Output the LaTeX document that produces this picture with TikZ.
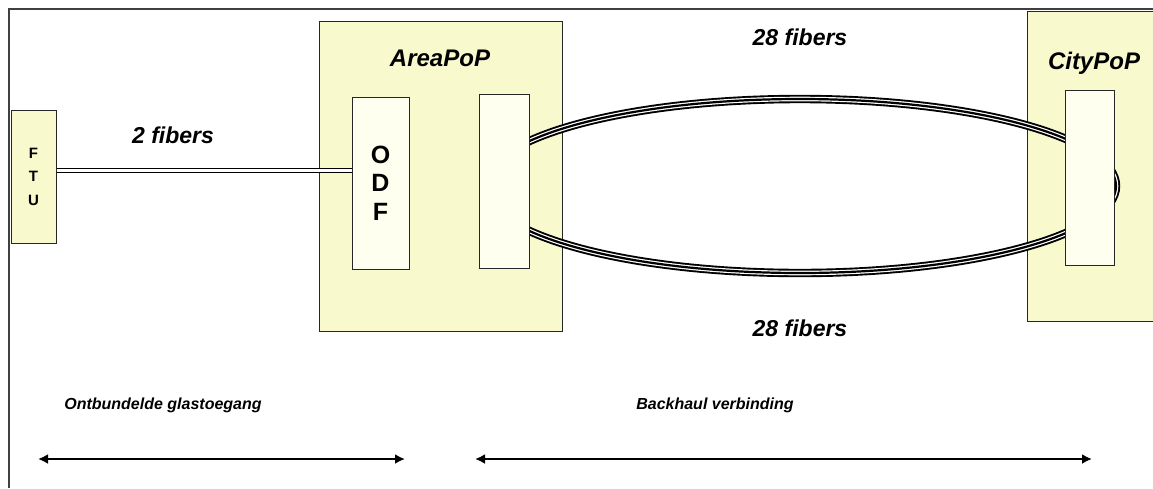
\documentclass[tikz,border=0pt]{standalone}
\usepackage{fontspec}
\setmainfont{Liberation Sans}
\usetikzlibrary{arrows.meta}
\definecolor{popfill}{RGB}{249,249,206}
\definecolor{rackfill}{RGB}{255,255,240}
\begin{document}
\begin{tikzpicture}[x=1pt, y=-1pt, line width=1pt]
    \tikzstyle{popbox}=[draw=black!85, fill=popfill, inner sep=0pt]
    \tikzstyle{rackbox}=[draw=black!85, fill=rackfill, inner sep=0pt]
    \tikzstyle{lbl}=[font=\bfseries\itshape\fontsize{23}{27}\selectfont]
    \tikzstyle{sublbl}=[font=\bfseries\itshape\fontsize{16}{19}\selectfont]
    \tikzstyle{darrs}=[line width=2.4pt, {Latex[length=10pt,width=10pt]}-{Latex[length=10pt,width=10pt]}]

    \useasboundingbox (0,0) rectangle (1153,488);
    \draw[line width=1.8pt, black!75] (9,488) -- (9,9) -- (1153,9);

    % PoP housings
    \node[popbox, minimum width=243pt, minimum height=310pt] (areapop) at (440.5,176) {};
    \node[popbox, minimum width=140pt, minimum height=310pt] (citypop) at (1097,166) {};

    % backhaul loop, 28 fibers
    \coordinate (loop) at (800,186);
    \draw[line width=8.4pt] (loop) ellipse [x radius=316pt, y radius=87pt];
    \draw[line width=4.6pt, white] (loop) ellipse [x radius=316pt, y radius=87pt];
    \draw[line width=2.2pt] (loop) ellipse [x radius=316pt, y radius=87pt];

    % frames
    \node[popbox, minimum width=45pt, minimum height=133pt, align=center,
          font=\bfseries\fontsize{15}{23.5}\selectfont] (ftu) at (33.5,176.5) {F\\T\\U};
    \node[rackbox, minimum width=57pt, minimum height=172pt, align=center,
          font=\bfseries\fontsize{25}{28.5}\selectfont] (odf) at (380.5,183) {O\\D\\F};
    \node[rackbox, minimum width=50pt, minimum height=174pt] (rack) at (504,181) {};
    \node[rackbox, minimum width=49pt, minimum height=175pt] (cityrack) at (1089.5,177.5) {};

    % 2 fibers
    \draw[double, line width=1.7pt, double distance=2.4pt] (ftu.east |- 0,170.5) -- (odf.west |- 0,170.5);

    \node[lbl] (twofib) at (173,135) {2 fibers};
    \node[lbl, font=\bfseries\itshape\fontsize{24}{28}\selectfont] (arealbl) at (440,58) {AreaPoP};
    \node[lbl] (topfib) at (800,37) {28 fibers};
    \node[lbl] (botfib) at (800,328) {28 fibers};
    \node[lbl, font=\bfseries\itshape\fontsize{24}{28}\selectfont] (citylbl) at (1094,63) {CityPoP};

    % trajecten
    \node[sublbl] (ontb) at (163,405) {Ontbundelde glastoegang};
    \node[sublbl] (backh) at (715,405) {Backhaul verbinding};
    \coordinate (ontbL) at (38,459);
    \coordinate (ontbR) at (405,459);
    \coordinate (backhL) at (475,459);
    \coordinate (backhR) at (1092,459);
    \draw[darrs] (ontbL) -- (ontbR);
    \draw[darrs] (backhL) -- (backhR);
\end{tikzpicture}
\end{document}
